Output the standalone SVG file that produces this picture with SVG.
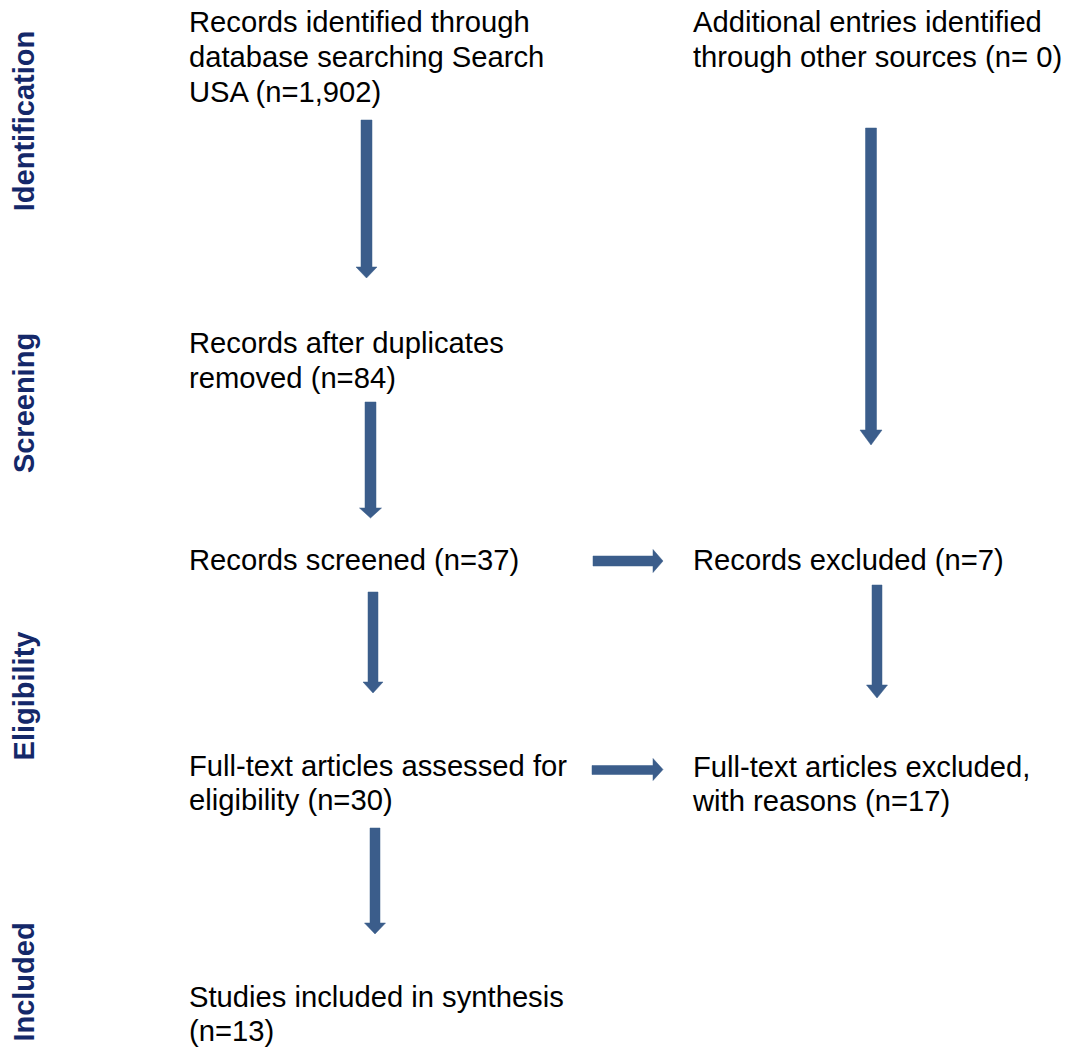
<svg xmlns="http://www.w3.org/2000/svg" width="1071" height="1047" viewBox="0 0 1071 1047">
<style>
.t{font-family:"Liberation Sans",Arial,sans-serif;font-size:29.2px;fill:#000}
.s{font-family:"Liberation Sans",Arial,sans-serif;font-size:29px;font-weight:bold;fill:#142869;text-anchor:middle}
.a{fill:#3B5D8B;stroke:#385D8A;stroke-width:0.5}
</style>
<rect width="1071" height="1047" fill="#fff"/>
<g id="stages">
<text class="s" transform="translate(34,121) rotate(-90)">Identification</text>
<text class="s" transform="translate(34,403) rotate(-90)">Screening</text>
<text class="s" transform="translate(34,696) rotate(-90)">Eligibility</text>
<text class="s" transform="translate(34,982) rotate(-90)">Included</text>
</g>
<g id="n1"><text class="t" x="189" y="32">Records identified through</text><text class="t" x="189" y="67">database searching Search</text><text class="t" x="189" y="102">USA (n=1,902)</text></g>
<g id="n2"><text class="t" x="693" y="32">Additional entries identified</text><text class="t" x="693" y="67">through other sources (n= 0)</text></g>
<g id="n3"><text class="t" x="189" y="353">Records after duplicates</text><text class="t" x="189" y="388">removed (n=84)</text></g>
<g id="n4"><text class="t" x="189" y="570">Records screened (n=37)</text></g>
<g id="n5"><text class="t" x="693" y="570">Records excluded (n=7)</text></g>
<g id="n6"><text class="t" x="189" y="776">Full-text articles assessed for</text><text class="t" x="189" y="810">eligibility (n=30)</text></g>
<g id="n7"><text class="t" x="693" y="777">Full-text articles excluded,</text><text class="t" x="693" y="811">with reasons (n=17)</text></g>
<g id="n8"><text class="t" x="189" y="1007">Studies included in synthesis</text><text class="t" x="189" y="1041">(n=13)</text></g>
<g id="connectors">
<polygon class="a" points="361,120 372,120 372,267 377,267 366.5,278 356,267 361,267"/>
<polygon class="a" points="865.5,128 876.5,128 876.5,430 882,430 871,445 860,430 865.5,430"/>
<polygon class="a" points="365,402 376,402 376,508 381.5,508 370.5,518 359.5,508 365,508"/>
<polygon class="a" points="368,592 378,592 378,682 383,682 373,693 363,682 368,682"/>
<polygon class="a" points="872,585 882,585 882,685 887.5,685 877,698 866.5,685 872,685"/>
<polygon class="a" points="370,828 380,828 380,923 385.5,923 375,934 364.5,923 370,923"/>
<polygon class="a" points="593,556 653,556 653,549.5 663,561 653,572.5 653,566 593,566"/>
<polygon class="a" points="592,765.5 653,765.5 653,758.5 663,769.5 653,780.5 653,774.5 592,774.5"/>
</g>
</svg>
